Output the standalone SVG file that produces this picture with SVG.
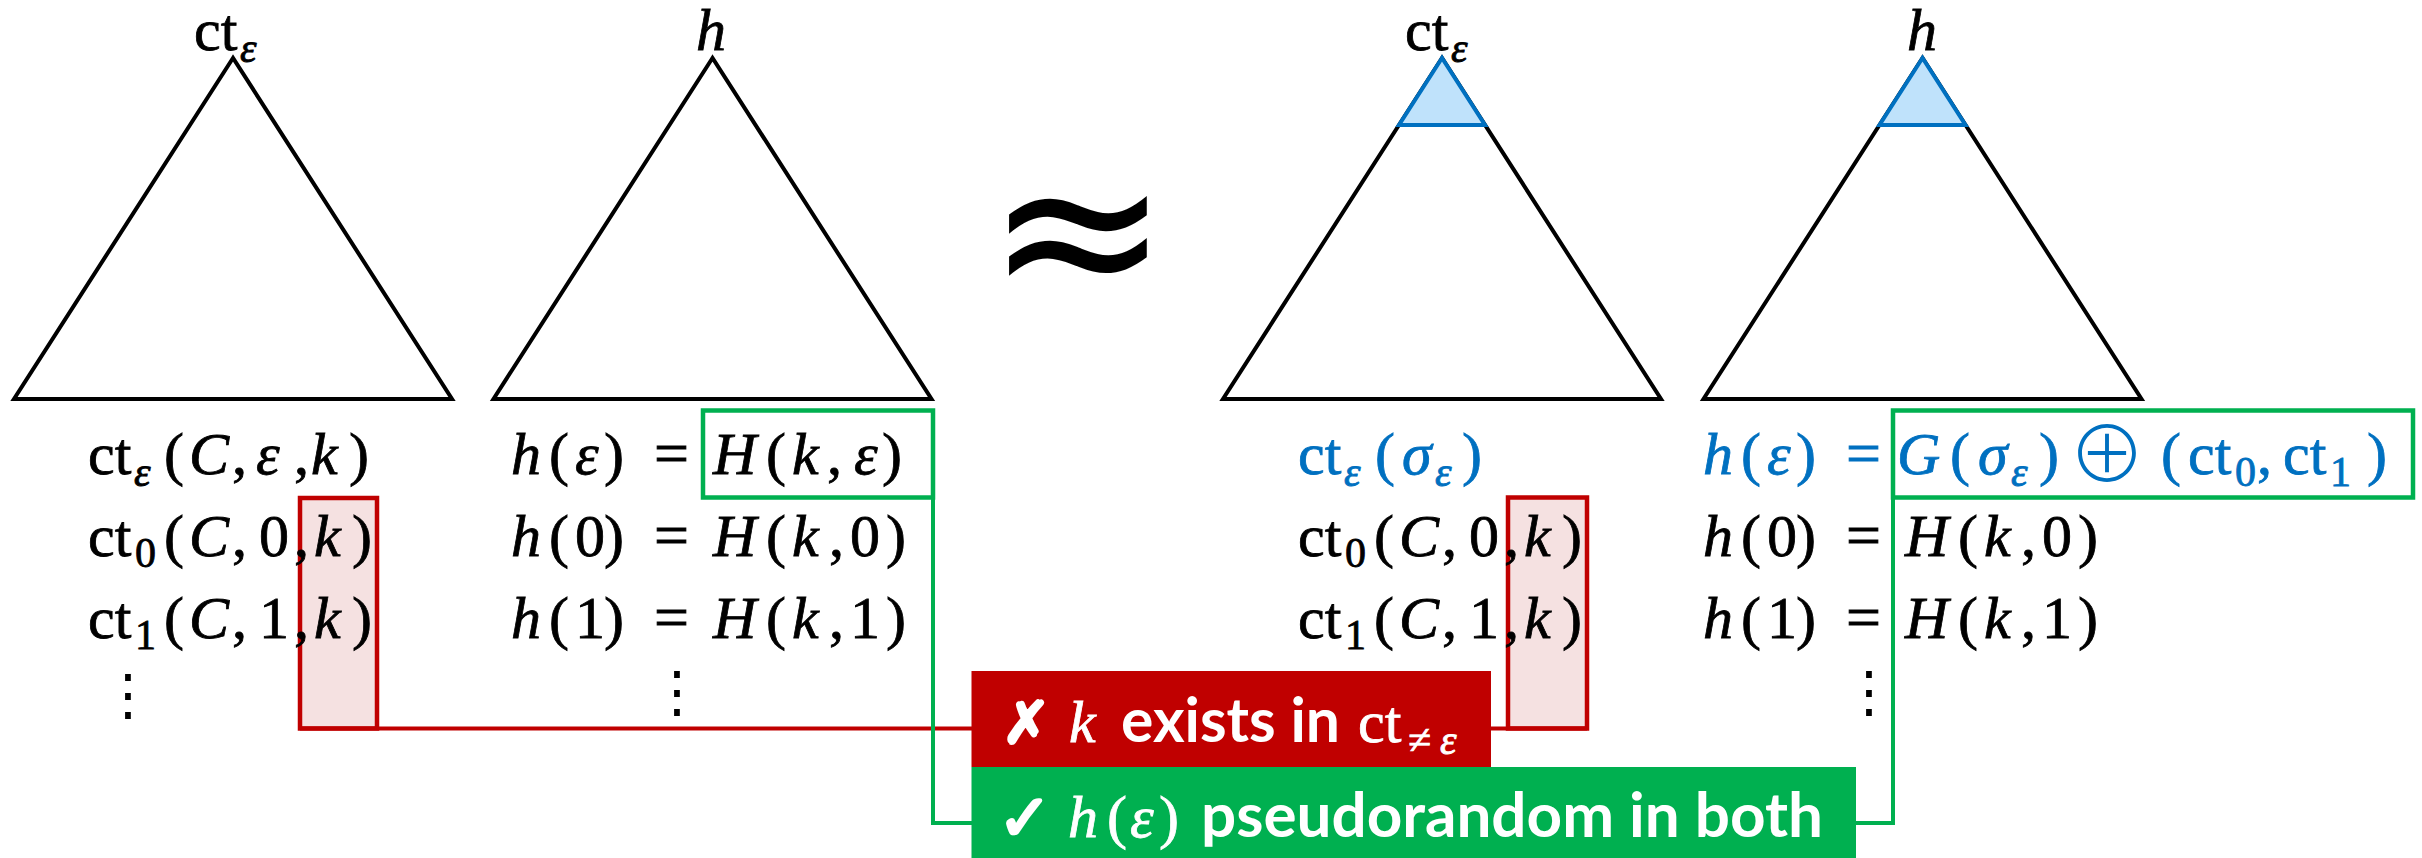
<svg xmlns="http://www.w3.org/2000/svg" width="2422" height="858" viewBox="0 0 2422 858">
<style>
.tri{fill:none;stroke:#000;stroke-width:4;stroke-linejoin:miter}
.top{fill:#BFE2FB;stroke:#0070C0;stroke-width:4;stroke-linejoin:miter}
.m{font-family:"Liberation Serif","DejaVu Serif",serif;font-size:60px;fill:#000;stroke:#000;stroke-width:0.8}
.blue{fill:#0070C0;stroke:#0070C0}
.i{font-style:italic}
.s{font-size:42px}
.sym{font-family:"DejaVu Sans",sans-serif}
.op{font-family:"Noto Sans CJK SC","Noto Sans CJK JP",sans-serif;font-weight:300;stroke:none}
.eq{font-size:62px}
.dots{font-family:"DejaVu Sans",sans-serif;font-size:56px;fill:#000;text-anchor:middle}
.pink{fill:#F5E1E1;stroke:#C00000;stroke-width:4.5}
.gbox{fill:none;stroke:#00B050;stroke-width:4.5}
.rl{stroke:#C00000;stroke-width:4;fill:none}
.gl{stroke:#00B050;stroke-width:4;fill:none}
.lab{font-family:Lato,"Open Sans",sans-serif;font-weight:700;font-size:62px;fill:#fff}
.w{fill:#fff;stroke:#fff}
.mark{font-family:"DejaVu Sans",sans-serif;font-weight:bold;fill:#fff;stroke:#fff;stroke-width:3;stroke-linejoin:round}
</style>
<rect width="2422" height="858" fill="#fff"/>

<g id="highlights">
  <rect class="pink" x="300" y="498" width="77" height="230.5"/>
  <rect class="pink" x="1508" y="497.5" width="79" height="231"/>
</g>

<g id="connectors">
  <line class="rl" x1="300" y1="728.5" x2="1587" y2="728.5"/>
  <polyline class="gl" points="933,497 933,823 972,823"/>
  <polyline class="gl" points="1855,823 1893,823 1893,497"/>
</g>

<g id="tree-ct-real">
  <polygon class="tri" points="233,58 14,399 452,399"/>
  <text class="m" y="50"><tspan x="194">ct</tspan><tspan class="s i" x="240" y="62">ε</tspan></text>
  <text class="m" y="474"><tspan x="88">ct</tspan><tspan class="s i" x="134" y="486">ε</tspan><tspan x="164" y="474">(</tspan><tspan class="i" x="189">C</tspan><tspan x="232">,</tspan><tspan class="i" x="256">ε</tspan><tspan x="294">,</tspan><tspan class="i" x="311">k</tspan><tspan x="349">)</tspan></text>
  <text class="m" y="556"><tspan x="88">ct</tspan><tspan class="s" x="135" y="567">0</tspan><tspan x="164" y="556">(</tspan><tspan class="i" x="189">C</tspan><tspan x="232">,</tspan><tspan x="259">0</tspan><tspan x="294">,</tspan><tspan class="i" x="314">k</tspan><tspan x="352">)</tspan></text>
  <text class="m" y="638"><tspan x="88">ct</tspan><tspan class="s" x="135" y="649">1</tspan><tspan x="164" y="638">(</tspan><tspan class="i" x="189">C</tspan><tspan x="232">,</tspan><tspan x="259">1</tspan><tspan x="294">,</tspan><tspan class="i" x="314">k</tspan><tspan x="352">)</tspan></text>
  <text class="dots" x="128" y="714">⋮</text>
</g>

<g id="tree-h-real">
  <polygon class="tri" points="712.5,58 493.5,399 931.5,399"/>
  <text class="m i" x="696" y="50">h</text>
  <text class="m" y="474"><tspan class="i" x="511">h</tspan><tspan x="549">(</tspan><tspan class="i" x="575">ε</tspan><tspan x="604">)</tspan><tspan class="eq" x="654">=</tspan><tspan class="i" x="713">H</tspan><tspan x="766">(</tspan><tspan class="i" x="792">k</tspan><tspan x="827">,</tspan><tspan class="i" x="854">ε</tspan><tspan x="882">)</tspan></text>
  <text class="m" y="556"><tspan class="i" x="511">h</tspan><tspan x="549">(</tspan><tspan x="575">0</tspan><tspan x="604">)</tspan><tspan class="eq" x="654">=</tspan><tspan class="i" x="713">H</tspan><tspan x="766">(</tspan><tspan class="i" x="792">k</tspan><tspan x="829">,</tspan><tspan x="850">0</tspan><tspan x="886">)</tspan></text>
  <text class="m" y="638"><tspan class="i" x="511">h</tspan><tspan x="549">(</tspan><tspan x="575">1</tspan><tspan x="604">)</tspan><tspan class="eq" x="654">=</tspan><tspan class="i" x="713">H</tspan><tspan x="766">(</tspan><tspan class="i" x="792">k</tspan><tspan x="829">,</tspan><tspan x="850">1</tspan><tspan x="886">)</tspan></text>
  <text class="dots" x="677" y="711">⋮</text>
  <rect class="gbox" x="703" y="410.5" width="230" height="87"/>
</g>

<g id="approx">
  <text class="sym" x="1078" y="305" font-size="220" text-anchor="middle">≈</text>
</g>

<g id="tree-ct-sim">
  <polygon class="tri" points="1442,58 1223,399 1661,399"/>
  <polygon class="top" points="1442,58 1399,125 1485,125"/>
  <text class="m" y="50"><tspan x="1405">ct</tspan><tspan class="s i" x="1451" y="62">ε</tspan></text>
  <text class="m blue" y="474"><tspan x="1298">ct</tspan><tspan class="s i" x="1344" y="486">ε</tspan><tspan x="1375" y="474">(</tspan><tspan class="i" x="1402">σ</tspan><tspan class="s i" x="1435" y="486">ε</tspan><tspan x="1462" y="474">)</tspan></text>
  <text class="m" y="556"><tspan x="1298">ct</tspan><tspan class="s" x="1345" y="567">0</tspan><tspan x="1374" y="556">(</tspan><tspan class="i" x="1399">C</tspan><tspan x="1442">,</tspan><tspan x="1469">0</tspan><tspan x="1504">,</tspan><tspan class="i" x="1524">k</tspan><tspan x="1562">)</tspan></text>
  <text class="m" y="638"><tspan x="1298">ct</tspan><tspan class="s" x="1345" y="649">1</tspan><tspan x="1374" y="638">(</tspan><tspan class="i" x="1399">C</tspan><tspan x="1442">,</tspan><tspan x="1469">1</tspan><tspan x="1504">,</tspan><tspan class="i" x="1524">k</tspan><tspan x="1562">)</tspan></text>
</g>

<g id="tree-h-sim">
  <polygon class="tri" points="1922.5,58 1703.5,399 2141.5,399"/>
  <polygon class="top" points="1922.5,58 1879.5,125 1965.5,125"/>
  <text class="m i" x="1907" y="50">h</text>
  <text class="m blue" y="474"><tspan class="i" x="1703">h</tspan><tspan x="1741">(</tspan><tspan class="i" x="1767">ε</tspan><tspan x="1796">)</tspan><tspan class="eq" x="1846">=</tspan><tspan class="i" x="1897">G</tspan><tspan x="1950">(</tspan><tspan class="i" x="1978">σ</tspan><tspan class="s i" x="2011" y="486">ε</tspan><tspan x="2039" y="474">)</tspan><tspan class="op" font-size="78" x="2068" y="483">⊕</tspan><tspan x="2161" y="474">(</tspan><tspan x="2188">ct</tspan><tspan class="s" x="2235" y="486">0</tspan><tspan x="2257" y="474">,</tspan><tspan x="2283">ct</tspan><tspan class="s" x="2330" y="486">1</tspan><tspan x="2367" y="474">)</tspan></text>
  <text class="m" y="556"><tspan class="i" x="1703">h</tspan><tspan x="1741">(</tspan><tspan x="1767">0</tspan><tspan x="1796">)</tspan><tspan class="eq" x="1846">=</tspan><tspan class="i" x="1905">H</tspan><tspan x="1958">(</tspan><tspan class="i" x="1984">k</tspan><tspan x="2021">,</tspan><tspan x="2042">0</tspan><tspan x="2078">)</tspan></text>
  <text class="m" y="638"><tspan class="i" x="1703">h</tspan><tspan x="1741">(</tspan><tspan x="1767">1</tspan><tspan x="1796">)</tspan><tspan class="eq" x="1846">=</tspan><tspan class="i" x="1905">H</tspan><tspan x="1958">(</tspan><tspan class="i" x="1984">k</tspan><tspan x="2021">,</tspan><tspan x="2042">1</tspan><tspan x="2078">)</tspan></text>
  <text class="dots" x="1869" y="711">⋮</text>
  <rect class="gbox" x="1893" y="410.5" width="520" height="87"/>
</g>

<g id="label-red">
  <rect x="971.5" y="671" width="519.5" height="96" fill="#C00000"/>
  <text class="mark" x="1002" y="743" font-size="58">✗</text>
  <text class="m i w" x="1069" y="742" font-size="62">k</text>
  <text class="lab" x="1121" y="742" textLength="219" lengthAdjust="spacingAndGlyphs">exists in</text>
  <text class="m w" y="742" font-size="62"><tspan x="1358">ct</tspan><tspan class="s" x="1408" y="754">≠</tspan><tspan class="s i" x="1440" y="754">ε</tspan></text>
</g>

<g id="label-green">
  <rect x="971.5" y="767" width="884.5" height="91" fill="#00B050"/>
  <text class="mark" x="998" y="840" font-size="64">✓</text>
  <text class="m w" y="837" font-size="62"><tspan class="i" x="1068">h</tspan><tspan x="1107">(</tspan><tspan class="i" x="1130">ε</tspan><tspan x="1159">)</tspan></text>
  <text class="lab" x="1201" y="837" textLength="622" lengthAdjust="spacingAndGlyphs">pseudorandom in both</text>
</g>
</svg>
